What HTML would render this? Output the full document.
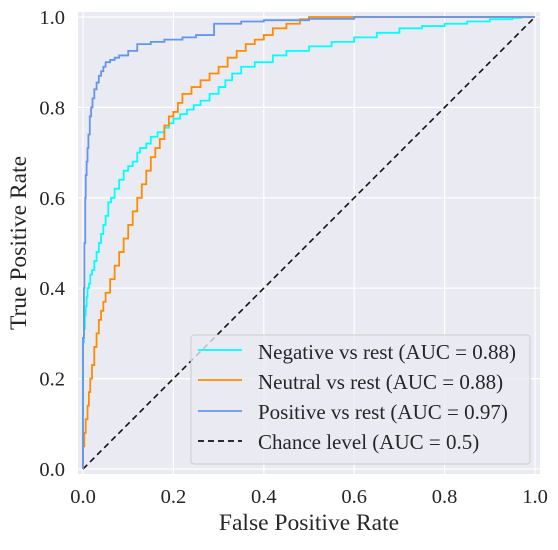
<!DOCTYPE html>
<html><head><meta charset="utf-8"><style>
body{margin:0;background:#fff;}
svg text{font-family:"Liberation Serif",serif;fill:#262626;}
</style></head><body>
<svg id="chart" width="558" height="545" xmlns="http://www.w3.org/2000/svg">
<rect x="78" y="12" width="462" height="462" fill="#eaeaf2"/>
<g id="grid"></g>
<g id="curves"></g>
<g id="ticks"></g>
<text x="309" y="530" font-size="23.5" text-anchor="middle">False Positive Rate</text>
<text transform="translate(26,243) rotate(-90)" font-size="23.5" text-anchor="middle">True Positive Rate</text>
<g>
<rect x="191" y="335" width="339" height="129" rx="3" fill="#eaeaf2" fill-opacity="0.8" stroke="#cccccc"/>
<g><line x1="198" y1="350" x2="242" y2="350" stroke="#00ffff" stroke-width="1.8"/><text x="258" y="359" font-size="21">Negative vs rest (AUC = 0.88)</text></g>
<g><line x1="198" y1="380" x2="242" y2="380" stroke="#ff8c00" stroke-width="1.8"/><text x="258" y="389" font-size="21">Neutral vs rest (AUC = 0.88)</text></g>
<g><line x1="198" y1="411" x2="242" y2="411" stroke="#6495ed" stroke-width="1.8"/><text x="258" y="419" font-size="21">Positive vs rest (AUC = 0.97)</text></g>
<g><line x1="198" y1="441" x2="242" y2="441" stroke="#111" stroke-width="1.8" stroke-dasharray="6,4"/><text x="258" y="449" font-size="21">Chance level (AUC = 0.5)</text></g>
</g>
</svg>
<script>
const tickValues=[0,0.2,0.4,0.6,0.8,1.0];
const tickLabels=["0.0","0.2","0.4","0.6","0.8","1.0"];
const negFpr=[0,0,0.002,0.004,0.006,0.008,0.01,0.013,0.016,0.02,0.025,0.03,0.035,0.04,0.045,0.05,0.056,0.062,0.07,0.08,0.09,0.1,0.11,0.12,0.126,0.14,0.15,0.165,0.18,0.19,0.2,0.215,0.23,0.245,0.26,0.28,0.3,0.315,0.33,0.35,0.38,0.42,0.45,0.5,0.55,0.6,0.65,0.7,0.75,0.8,0.85,0.9,0.95,0.97,1];
const negTpr=[0,0.28,0.31,0.34,0.36,0.38,0.40,0.41,0.43,0.44,0.46,0.48,0.50,0.52,0.54,0.56,0.59,0.60,0.62,0.64,0.66,0.67,0.68,0.70,0.71,0.72,0.735,0.745,0.755,0.765,0.775,0.785,0.795,0.805,0.815,0.83,0.845,0.86,0.875,0.89,0.9,0.915,0.925,0.935,0.945,0.955,0.965,0.975,0.98,0.985,0.99,0.995,0.998,1,1];
const neuFpr=[0,0,0.003,0.006,0.01,0.013,0.016,0.02,0.025,0.03,0.035,0.04,0.045,0.05,0.06,0.07,0.08,0.09,0.1,0.11,0.12,0.13,0.14,0.15,0.16,0.17,0.18,0.19,0.2,0.21,0.22,0.24,0.26,0.28,0.3,0.32,0.34,0.36,0.38,0.4,0.42,0.45,0.48,0.5,1];
const neuTpr=[0,0.05,0.08,0.11,0.14,0.17,0.2,0.23,0.27,0.3,0.33,0.35,0.37,0.39,0.42,0.45,0.48,0.51,0.54,0.57,0.6,0.63,0.66,0.69,0.71,0.73,0.76,0.78,0.79,0.81,0.83,0.845,0.86,0.875,0.89,0.91,0.925,0.94,0.95,0.96,0.975,0.985,0.995,1,1];
const posFpr=[0,0,0.002,0.003,0.005,0.006,0.008,0.01,0.012,0.015,0.018,0.021,0.025,0.03,0.035,0.04,0.045,0.05,0.06,0.07,0.08,0.1,0.12,0.15,0.18,0.22,0.25,0.29,0.35,0.4,0.5,0.6,1];
const posTpr=[0,0.29,0.4,0.5,0.6,0.65,0.68,0.71,0.74,0.78,0.8,0.82,0.84,0.855,0.87,0.88,0.89,0.9,0.905,0.91,0.915,0.925,0.94,0.945,0.95,0.955,0.96,0.985,0.99,0.993,0.996,1,1];
const X0=83,X1=535,Y0=469,Y1=17;
const sx=v=>X0+v*(X1-X0), sy=v=>Y0-v*(Y0-Y1);
const NS="http://www.w3.org/2000/svg";
const grid=document.getElementById('grid'),ticks=document.getElementById('ticks'),curves=document.getElementById('curves');
tickValues.forEach((v,i)=>{
  const gx=document.createElementNS(NS,'line');
  gx.setAttribute('x1',sx(v));gx.setAttribute('x2',sx(v));gx.setAttribute('y1',12);gx.setAttribute('y2',474);
  gx.setAttribute('stroke','#fff');gx.setAttribute('stroke-width','1.2');
  
  
  grid.appendChild(gx);
  const gy=document.createElementNS(NS,'line');
  gy.setAttribute('y1',sy(v));gy.setAttribute('y2',sy(v));gy.setAttribute('x1',78);gy.setAttribute('x2',540);
  gy.setAttribute('stroke','#fff');gy.setAttribute('stroke-width','1.2');
  
  
  grid.appendChild(gy);
  const tx=document.createElementNS(NS,'text');
  tx.setAttribute('x',sx(v));tx.setAttribute('y',503);tx.setAttribute('font-size','20.5');tx.setAttribute('text-anchor','middle');
  tx.textContent=tickLabels[i];
  
  
  ticks.appendChild(tx);
  const ty=document.createElementNS(NS,'text');
  ty.setAttribute('x',65);ty.setAttribute('y',sy(v)+7);ty.setAttribute('font-size','20.5');ty.setAttribute('text-anchor','end');
  ty.textContent=tickLabels[i];
  
  
  ticks.appendChild(ty);
});
function stepPath(fx,ty){
  let d='M'+sx(fx[0])+','+sy(ty[0]);
  for(let i=1;i<fx.length;i++){d+=' L'+sx(fx[i])+','+sy(ty[i-1])+' L'+sx(fx[i])+','+sy(ty[i]);}
  return d;
}
function addCurve(fx,ty,color,name){
  const p=document.createElementNS(NS,'path');
  p.setAttribute('d',stepPath(fx,ty));p.setAttribute('fill','none');p.setAttribute('stroke',color);p.setAttribute('stroke-width','1.8');
  
  
  curves.appendChild(p);
}
const ch=document.createElementNS(NS,'line');
ch.setAttribute('x1',sx(0));ch.setAttribute('y1',sy(0));ch.setAttribute('x2',sx(1));ch.setAttribute('y2',sy(1));
ch.setAttribute('stroke','#111');ch.setAttribute('stroke-width','1.6');ch.setAttribute('stroke-dasharray','6,4');


curves.appendChild(ch);
addCurve(negFpr,negTpr,'#00ffff','negative-roc-curve');
addCurve(neuFpr,neuTpr,'#ff8c00','neutral-roc-curve');
addCurve(posFpr,posTpr,'#6495ed','positive-roc-curve');
</script>
</body></html>
